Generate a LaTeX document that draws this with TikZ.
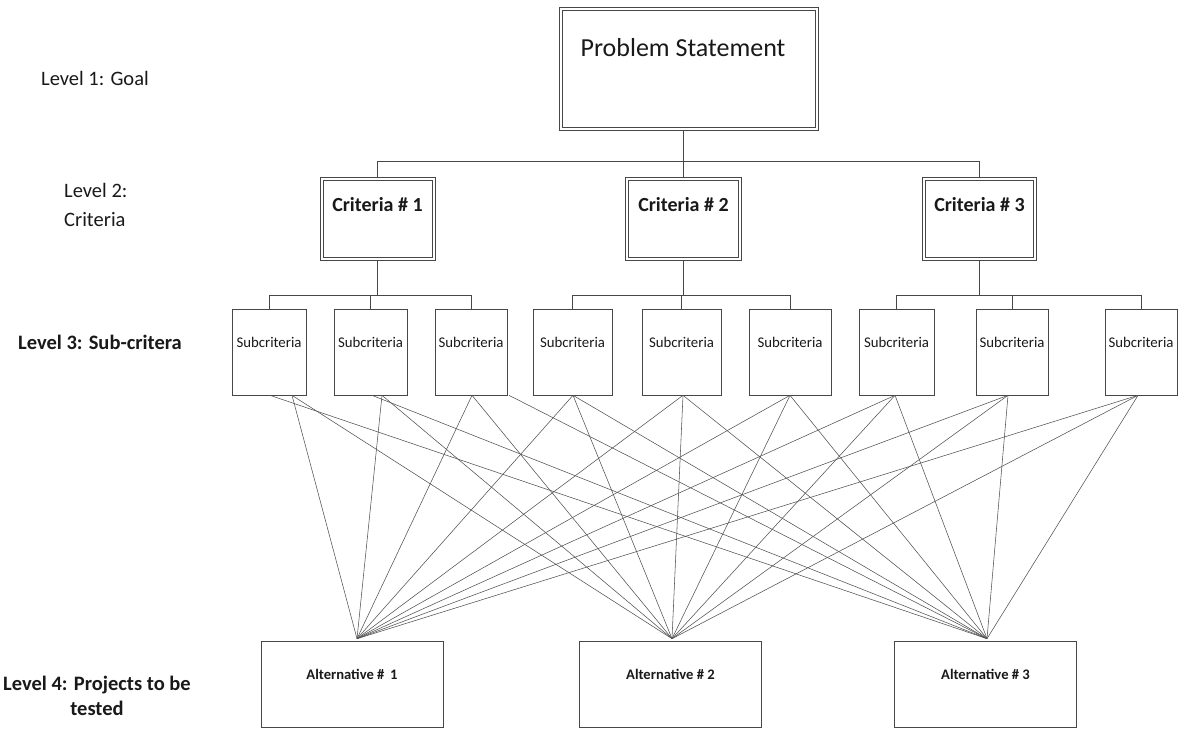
\documentclass[tikz,border=0pt]{standalone}
\usepackage{fontspec}
\setmainfont{Carlito}
\begin{document}
\begin{tikzpicture}[x=1pt,y=-1pt,
  box/.style={draw=black!72, line width=0.65pt, fill=white, inner sep=0pt},
  inner/.style={draw=black!72, line width=0.65pt},
  txt/.style={inner sep=0pt, anchor=base, text=black!90},
  lvl/.style={txt, font=\fontsize{20.5}{25}\selectfont},
  lvlb/.style={txt, font=\fontsize{20.5}{25}\selectfont\bfseries},
  tree/.style={draw=black!72, line width=0.65pt},
  link/.style={draw=black!68, line width=0.55pt}
]
\useasboundingbox (0,0) rectangle (1180,730);

% level captions on the left
\node[lvl] (l1) at (95,85.5) {Level 1: Goal};
\node[lvl, anchor=base west] (l2a) at (64,198) {Level 2:};
\node[lvl, anchor=base west] (l2b) at (64,226.5) {Criteria};
\node[lvlb] (l3) at (100,349) {Level 3: Sub-critera};
\node[lvlb] (l4a) at (97,690.5) {Level 4: Projects to be};
\node[lvlb] (l4b) at (97,715) {tested};

% goal (double frame)
\node[box, minimum width=259pt, minimum height=123pt] (goal) at (689,68.5) {};
\draw[inner] ([shift={(3.3pt,-3.3pt)}]goal.north west) rectangle ([shift={(-3.3pt,3.3pt)}]goal.south east);
\node[txt, font=\fontsize{26}{30}\selectfont] (goalt) at (683,57) {Problem Statement};

% criteria (double frames)
\foreach \n/\x/\w in {1/377.5/115, 2/683.5/116, 3/979.5/114}{
  \node[box, minimum width=\w pt, minimum height=83pt] (c\n) at (\x,218.5) {};
  \draw[inner] ([shift={(3.3pt,-3.3pt)}]c\n.north west) rectangle ([shift={(-3.3pt,3.3pt)}]c\n.south east);
  \node[txt, font=\fontsize{20}{24}\selectfont\bfseries] (c\n t) at (\x,211.5) {Criteria \# \n};
}

% sub-criteria
\foreach \n/\x/\w in {1/269/74, 2/370.5/73, 3/471/72, 4/572.5/79, 5/681.5/79,
                      6/790/82, 7/896.5/75, 8/1012/72, 9/1141/72}{
  \node[box, minimum width=\w pt, minimum height=86pt] (s\n) at (\x,352) {};
  \node[txt, font=\fontsize{14.8}{18}\selectfont] (s\n t) at (\x,347) {Subcriteria};
}

% alternatives
\foreach \n/\x in {1/352, 2/670.5, 3/985.5}{
  \node[box, minimum width=182pt, minimum height=86pt] (a\n) at (\x,684) {};
}
\node[txt, font=\fontsize{14.6}{18}\selectfont\bfseries] (a1t) at (352,679) {Alternative \#\, 1};
\node[txt, font=\fontsize{14.6}{18}\selectfont\bfseries] (a2t) at (670.5,679) {Alternative \# 2};
\node[txt, font=\fontsize{14.6}{18}\selectfont\bfseries] (a3t) at (985.5,679) {Alternative \# 3};

% hierarchy tree
\coordinate (bus) at (684,161);
\coordinate (sbus) at (684,295);
\draw[tree] (goal.south -| c2.north) -- (c2.north);
\draw[tree] (c1.north) -- (c1.north |- bus) -- (c3.north |- bus) -- (c3.north);
\foreach \c/\a/\b/\m in {1/1/3/2, 2/4/6/5, 3/7/9/8}{
  \draw[tree] (c\c.south) -- (c\c.south |- sbus);
  \draw[tree] (s\a.north) -- (s\a.north |- sbus) -- (s\b.north |- sbus) -- (s\b.north);
  \draw[tree] (s\m.north) -- (s\m.north |- sbus);
}

% every sub-criterion feeds every alternative
\coordinate (p1) at ([xshift=5pt,yshift=2pt]a1.north);
\coordinate (p2) at ([xshift=1.5pt,yshift=2pt]a2.north);
\coordinate (p3) at ([xshift=1.5pt,yshift=2pt]a3.north);
\foreach \s/\da/\db/\dc in {1/23/23/1, 2/11.5/11.5/1.5, 3/1/1/38,
                            4/0.5/0.5/0.5, 5/1.5/1.5/1.5, 6/0/0/0,
                            7/-1.5/-1.5/-1.5, 8/-4/-4/-4, 9/-3/-3/-3}{
  \draw[link] ([xshift=\da pt]s\s.south) -- (p1);
  \draw[link] ([xshift=\db pt]s\s.south) -- (p2);
  \draw[link] ([xshift=\dc pt]s\s.south) -- (p3);
}
\end{tikzpicture}
\end{document}
